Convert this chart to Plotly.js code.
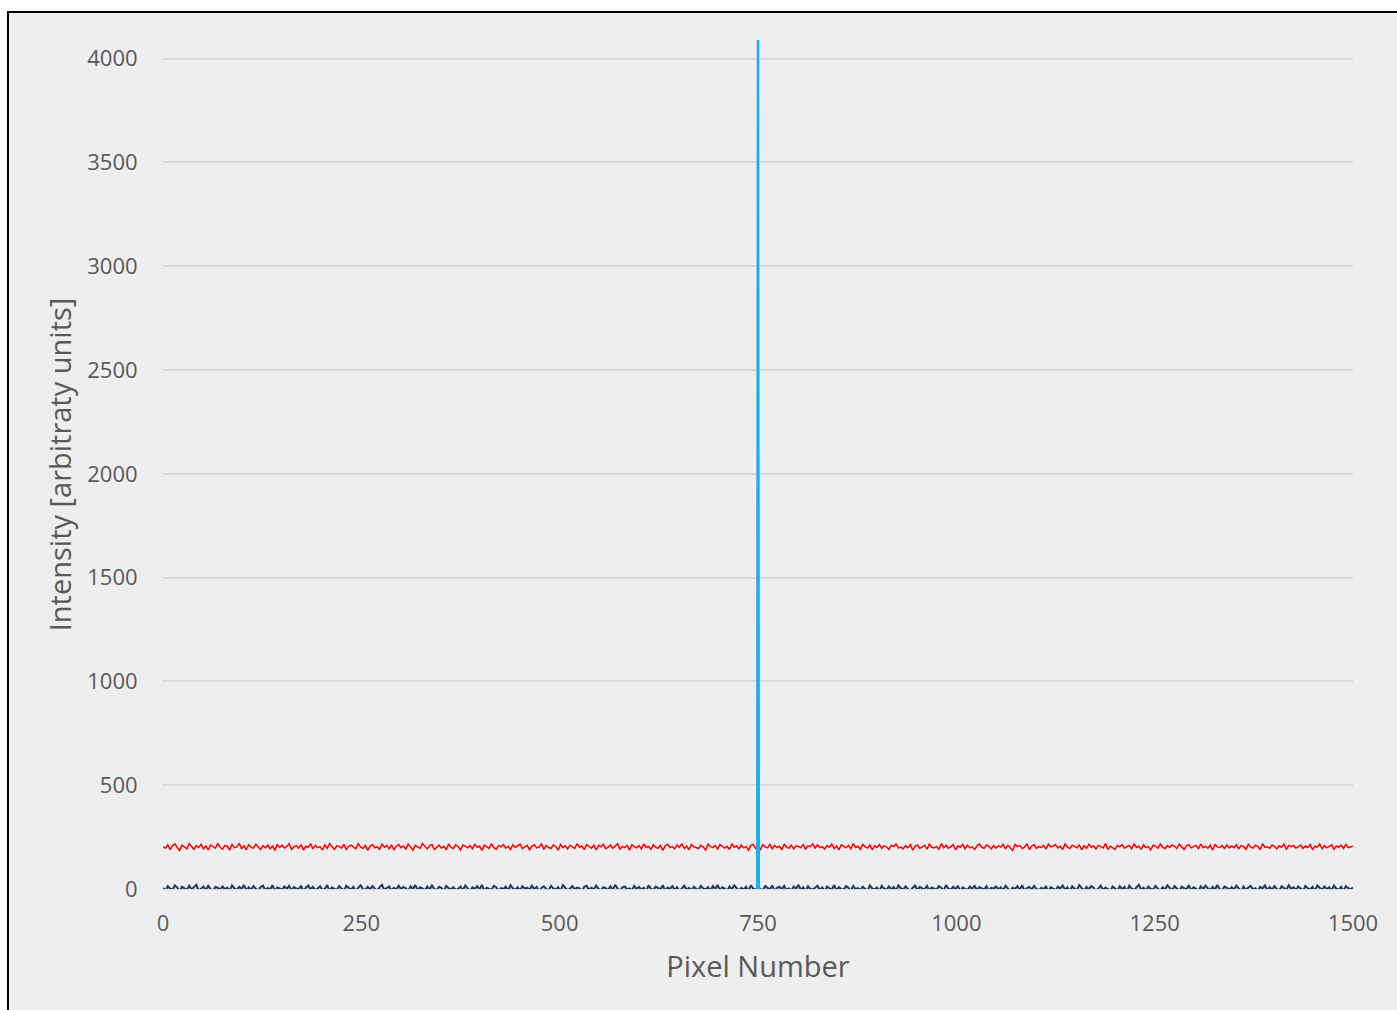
<!DOCTYPE html>
<html>
<head>
<meta charset="utf-8">
<script src="https://cdn.plot.ly/plotly-3.0.1.min.js"></script>
<style>
  html, body { margin: 0; padding: 0; background: #ffffff; width: 1397px; height: 1010px; overflow: hidden; }
  #frame { position: absolute; left: 7px; top: 11px; width: 1400px; height: 1010px; border: 2px solid #000; background: #eeeeee; }
  #chart { position: absolute; left: 0; top: 0; width: 1397px; height: 1010px; }
</style>
</head>
<body>
<div id="frame"></div>
<div id="chart"></div>
<script>
// Pixel sampling step (every 3rd pixel shown)
const pixelStep = 3;

// Red series (background level ~200)
const redValues = [
204,196,213,190,208,217,199,186,211,202,194,219,205,191,209,200,215,193,207,188,212,203,197,218,201,
192,210,206,187,214,199,203,220,195,208,189,213,201,197,216,204,190,209,198,212,194,207,186,215,200,
211,197,205,218,191,203,209,196,214,188,206,201,217,193,210,199,204,187,212,196,219,202,190,208,205,
197,215,189,206,211,200,193,218,203,195,210,186,207,213,198,204,191,216,201,209,194,212,188,205,214,
199,207,192,216,203,187,210,201,196,219,205,193,208,214,190,202,211,197,206,189,217,200,195,213,204,
188,212,205,198,209,193,215,201,207,186,211,204,196,218,199,192,210,203,214,197,206,190,213,200,208,
216,194,203,210,189,206,213,198,202,217,191,209,200,195,212,205,187,214,199,208,193,211,203,196,219,
201,207,190,214,204,197,211,188,209,203,215,194,200,212,196,206,218,192,205,199,210,187,213,204,198,
209,193,217,200,206,191,213,202,196,210,186,208,215,199,204,193,211,201,219,195,207,189,214,203,200,
195,211,202,188,216,205,199,209,192,214,203,197,206,190,218,201,208,194,212,198,204,187,210,215,196,
207,190,213,203,198,215,194,210,200,206,189,217,202,196,211,193,208,205,199,214,191,209,204,218,197,
212,199,204,192,209,201,216,195,207,188,213,204,198,210,194,219,200,206,191,215,203,197,211,189,208,
200,214,196,208,203,190,211,205,217,197,202,193,209,199,214,187,206,212,195,204,210,192,216,201,198,
205,191,218,199,210,196,204,213,188,207,201,215,194,211,198,203,190,208,217,200,196,212,205,193,209,
197,208,202,215,193,211,199,186,214,204,209,195,201,218,190,207,213,196,205,199,210,192,216,203,207,
213,198,206,190,217,202,195,211,204,199,212,189,208,196,215,201,207,193,210,204,198,219,191,206,200,
191,210,203,214,197,205,209,194,218,200,206,192,213,199,204,188,211,207,196,216,202,194,209,201,212,
206,195,216,201,190,208,213,198,204,210,193,217,199,205,196,211,187,214,203,200,209,195,212,198,207,
199,213,194,209,205,191,215,202,197,211,206,189,218,200,203,196,212,205,193,208,201,216,190,210,204,
210,197,204,212,195,207,200,214,189,206,202,217,194,209,198,205,213,191,207,201,211,196,215,199,203,
206];

// Navy series (dark level ~0, negative part hidden below the axis)
const navyValues = [
5,-8,14,2,-3,18,7,-10,11,1,-5,16,-2,9,20,-9,4,12,-6,15,0,-12,10,6,-4,
13,-1,7,-9,17,3,-5,11,0,19,-7,8,-3,14,2,-11,10,16,-6,5,-2,18,-10,7,3,
-4,12,1,15,-8,9,2,-3,16,-11,6,17,-1,10,-7,4,13,-5,0,19,-9,8,3,-6,14,
2,-9,15,6,-3,11,-12,5,18,1,-6,10,-2,14,3,-10,8,20,-4,2,12,-7,6,-3,16,
-1,10,4,-11,13,0,19,-6,8,3,-8,12,-3,17,1,-7,11,6,-12,15,4,-2,9,-5,0,
12,-6,17,3,-10,8,1,14,-3,20,-9,6,2,-4,15,9,-11,5,-1,11,-7,18,3,-3,8,
-8,14,2,6,-4,16,-1,10,-12,5,13,0,-7,15,3,-3,9,-10,19,6,-6,2,14,-2,7,
3,-11,11,16,-4,6,-2,17,1,-8,9,4,-6,13,-3,20,2,-10,8,12,-1,3,-7,15,0,
10,-3,6,-12,17,2,-6,12,4,-2,18,-9,7,0,14,-4,9,-11,3,16,-3,6,-7,11,1,
-5,15,3,-2,9,-10,14,0,19,-4,8,2,-9,12,-1,17,4,-7,6,-3,11,-12,18,2,-4,
9,0,-7,14,4,-3,17,-11,6,11,-2,15,-6,3,-9,12,1,20,-4,8,-10,13,0,-2,6,
16,-4,8,-12,12,3,-2,18,-7,9,0,-3,14,6,-10,15,-1,4,-6,11,2,-9,17,3,-3,
7,-10,15,1,-4,12,-2,9,-7,18,4,-3,13,0,-11,6,16,-5,10,3,-1,15,-8,7,0,
-3,14,6,-9,19,2,-4,11,-1,15,-12,8,3,-6,12,0,17,-7,9,4,-3,13,-10,6,2,
12,-2,9,-6,16,3,-11,7,0,14,-4,18,-9,5,10,-3,15,1,-7,6,-1,12,-12,9,3,
-6,11,2,17,-3,8,-10,13,1,-5,19,4,-8,10,-2,14,6,-11,3,16,-4,7,0,-9,12,
4,-7,13,-1,10,-12,16,2,-5,9,20,-3,6,-8,12,1,-4,15,3,-10,8,-2,17,5,-6,
14,0,-9,11,5,-3,18,-7,8,2,-11,13,-1,16,4,-6,10,-2,19,0,-8,12,6,-4,9,
-2,16,3,-10,12,-5,7,15,-1,4,-12,11,2,17,-6,9,-3,14,0,-9,13,5,-4,18,1,
8,-5,12,0,-8,15,3,-2,10,-11,17,6,-4,13,-1,9,-7,16,2,-3,11,-10,14,4,-1,
7];

// Cyan series (single bright pixel at 750)
const spikeX = [749, 750, 751];
const spikeY = [0, 4100, 0];

// Axis ticks
const yTicks = [0, 500, 1000, 1500, 2000, 2500, 3000, 3500, 4000];
const xTicks = [0, 250, 500, 750, 1000, 1250, 1500];

const redX = redValues.map((_, i) => i * pixelStep);
const navyX = navyValues.map((_, i) => i * pixelStep);

const traces = [
  { x: redX, y: redValues, type: 'scatter', mode: 'lines', line: { color: '#ff0000', width: 1.5 }, showlegend: false, hoverinfo: 'skip' },
  { x: navyX, y: navyValues, type: 'scatter', mode: 'lines', line: { color: '#1f3864', width: 2 }, showlegend: false, hoverinfo: 'skip' },
  { x: spikeX, y: spikeY, type: 'scatter', mode: 'lines', line: { color: '#14b1ec', width: 2.5 }, showlegend: false, hoverinfo: 'skip' }
];

const tickFont = { family: 'Open Sans, Noto Sans, sans-serif', size: 22, color: '#595959' };
const titleFont = { family: 'Open Sans, Noto Sans, sans-serif', size: 29, color: '#595959' };

const layout = {
  width: 1397, height: 1010,
  paper_bgcolor: 'rgba(0,0,0,0)',
  plot_bgcolor: 'rgba(0,0,0,0)',
  margin: { l: 163, r: 44, t: 40, b: 121 },
  xaxis: {
    range: [0, 1500], tickvals: xTicks, ticktext: xTicks.map(String),
    showgrid: false, zeroline: false, showline: false,
    ticks: 'outside', ticklen: 15, tickcolor: 'rgba(0,0,0,0)',
    tickfont: tickFont,
    title: { text: 'Pixel Number', font: titleFont, standoff: 20 }
  },
  yaxis: {
    range: [0, 4090], tickvals: yTicks, ticktext: yTicks.map(String),
    showgrid: true, gridcolor: '#d9d9d9', gridwidth: 2,
    zeroline: true, zerolinecolor: '#d9d9d9', zerolinewidth: 2,
    showline: false,
    ticks: 'outside', ticklen: 20, tickcolor: 'rgba(0,0,0,0)',
    tickfont: tickFont,
    title: { text: 'Intensity [arbitraty units]', font: titleFont, standoff: 7 }
  }
};

Plotly.newPlot('chart', traces, layout, { staticPlot: true, displayModeBar: false });
</script>
</body>
</html>
